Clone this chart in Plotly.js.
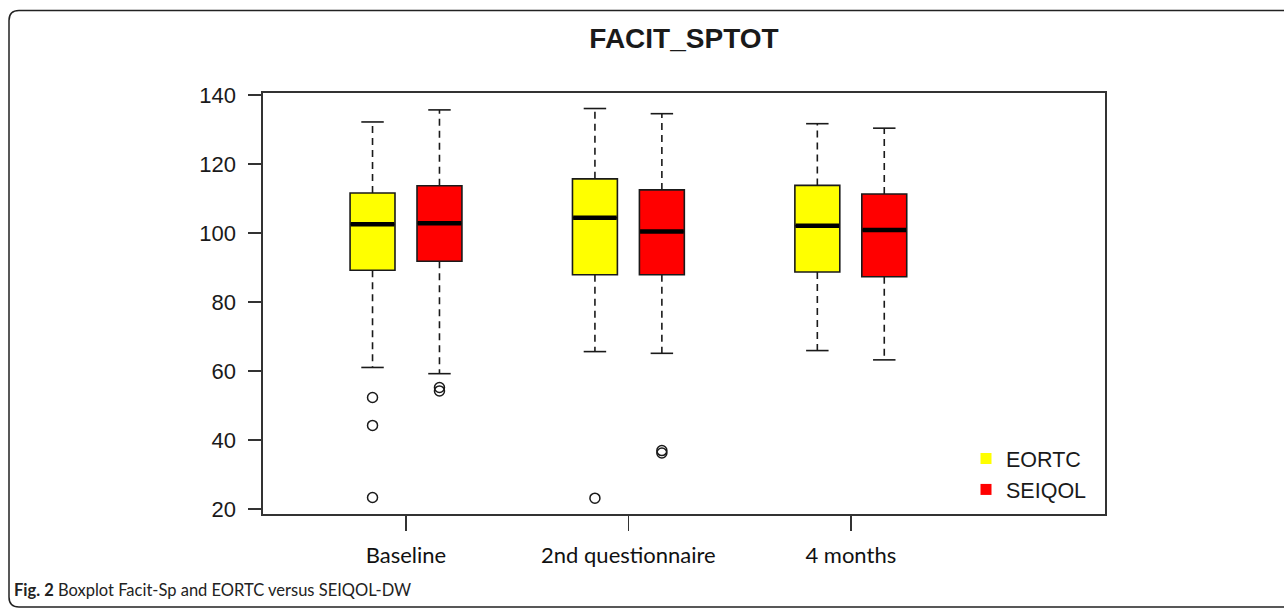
<!DOCTYPE html>
<html>
<head>
<meta charset="utf-8">
<script src="https://cdn.plot.ly/plotly-3.0.1.min.js"></script>
<style>
  html, body { margin: 0; padding: 0; background: #fff; }
  #chart { width: 1284px; height: 609px; }
</style>
</head>
<body>
<div id="chart"></div>
<script>
// ---- data ----
const categories = ['Baseline', '2nd questionnaire', '4 months'];
const seriesNames = ['EORTC', 'SEIQOL'];

const eortcLower  = [61.0, 65.6, 65.9];
const eortcQ1     = [89.2, 87.9, 88.7];
const eortcMedian = [102.5, 104.4, 102.1];
const eortcQ3     = [111.6, 115.7, 113.8];
const eortcUpper  = [132.2, 136.1, 131.7];
const eortcOutliers = [[52.3, 44.2, 23.3], [23.1], []];

const seiqolLower  = [59.2, 65.1, 63.2];
const seiqolQ1     = [91.8, 87.9, 87.3];
const seiqolMedian = [102.8, 100.4, 100.9];
const seiqolQ3     = [113.7, 112.5, 111.3];
const seiqolUpper  = [135.7, 134.6, 130.4];
const seiqolOutliers = [[55.2, 54.2], [36.9, 36.2], []];

const yTicks = [20, 40, 60, 80, 100, 120, 140];

// ---- styling / layout constants ----
const W = 1284, H = 609;
const M = { l: 263, r: 179, t: 93, b: 95 };
const plotW = W - M.l - M.r, plotH = H - M.t - M.b;
const OFFSET = 0.1505;    // half distance between paired boxes (category units)
const BOXW = 0.202;       // box width (category units)
const fills = ['#ffff00', '#ff0000'];
const edge = '#1a1a1a';

const series = [
  { name: seriesNames[0], lower: eortcLower, q1: eortcQ1, med: eortcMedian, q3: eortcQ3, upper: eortcUpper, out: eortcOutliers, off: -OFFSET, fill: fills[0] },
  { name: seriesNames[1], lower: seiqolLower, q1: seiqolQ1, med: seiqolMedian, q3: seiqolQ3, upper: seiqolUpper, out: seiqolOutliers, off: OFFSET, fill: fills[1] }
];

const traces = [];
series.forEach(s => {
  const pos = categories.map((c, i) => i + s.off);
  // dashed whiskers
  const wx = [], wy = [];
  pos.forEach((p, i) => {
    wx.push(p, p, null, p, p, null);
    wy.push(s.q3[i], s.upper[i], null, s.q1[i], s.lower[i], null);
  });
  traces.push({ type: 'scatter', mode: 'lines', x: wx, y: wy, showlegend: false, hoverinfo: 'skip',
    line: { color: edge, width: 1.6, dash: '7px,5px' } });
  // staples
  const sx = [], sy = [];
  pos.forEach((p, i) => {
    sx.push(p - BOXW / 4, p + BOXW / 4, null, p - BOXW / 4, p + BOXW / 4, null);
    sy.push(s.upper[i], s.upper[i], null, s.lower[i], s.lower[i], null);
  });
  traces.push({ type: 'scatter', mode: 'lines', x: sx, y: sy, showlegend: false, hoverinfo: 'skip',
    line: { color: edge, width: 1.6 } });
  // boxes
  traces.push({ type: 'box', x: pos, q1: s.q1, median: s.med, q3: s.q3,
    lowerfence: s.q1, upperfence: s.q3, width: BOXW, whiskerwidth: 0,
    fillcolor: s.fill, line: { color: edge, width: 1.6 }, showlegend: false, hoverinfo: 'skip' });
  // thick medians
  const mx = [], my = [];
  pos.forEach((p, i) => {
    mx.push(p - BOXW / 2 + 0.003, p + BOXW / 2 - 0.003, null);
    my.push(s.med[i], s.med[i], null);
  });
  traces.push({ type: 'scatter', mode: 'lines', x: mx, y: my, showlegend: false, hoverinfo: 'skip',
    line: { color: '#000', width: 4.5 } });
  // outliers
  const ox = [], oy = [];
  pos.forEach((p, i) => { s.out[i].forEach(v => { ox.push(p); oy.push(v); }); });
  traces.push({ type: 'scatter', mode: 'markers', x: ox, y: oy, showlegend: false, hoverinfo: 'skip',
    marker: { symbol: 'circle-open', size: 10, color: edge, line: { width: 1.5, color: edge } } });
});
// legend entries
series.forEach(s => {
  traces.push({ type: 'scatter', mode: 'markers', x: [null], y: [null], name: s.name,
    marker: { symbol: 'square', size: 11, color: s.fill } });
});

// pixel -> paper helpers for decorative frame
const px = x => (x - M.l) / plotW;
const py = y => (H - M.b - y) / plotH;
const L = 9, T = 10.5, R = 1320, B = 607, r = 10;
const framePath = [
  `M ${px(L)},${py(T + r)}`,
  `Q ${px(L)},${py(T)} ${px(L + r)},${py(T)}`,
  `L ${px(R - r)},${py(T)}`,
  `Q ${px(R)},${py(T)} ${px(R)},${py(T + r)}`,
  `L ${px(R)},${py(B - r)}`,
  `Q ${px(R)},${py(B)} ${px(R - r)},${py(B)}`,
  `L ${px(L + r)},${py(B)}`,
  `Q ${px(L)},${py(B)} ${px(L)},${py(B - r)}`,
  'Z'
].join(' ');

const rFont = 'Liberation Sans, Arial, sans-serif';
const capFont = 'Lato, Open Sans, sans-serif';
const layout = {
  width: W, height: H,
  margin: M,
  paper_bgcolor: '#fff', plot_bgcolor: '#fff',
  font: { family: rFont, color: '#1a1a1a' },
  title: { text: '<b>FACIT_SPTOT</b>', font: { family: rFont, size: 28, color: '#1a1a1a' },
    x: 0.5, xref: 'paper', xanchor: 'center', y: 1 - 38 / H, yref: 'container', yanchor: 'middle' },
  xaxis: {
    range: [-0.643, 3.143], tickvals: categories.map((c, i) => i), ticktext: categories,
    showgrid: false, zeroline: false, showline: true, mirror: true, linecolor: '#333', linewidth: 1.6,
    ticks: 'outside', ticklen: 15, tickwidth: 1.5, tickcolor: '#333',
    tickfont: { family: capFont, size: 22, color: '#111' }, ticklabelstandoff: 6
  },
  yaxis: {
    range: [18.5, 140.6], tickvals: yTicks, ticktext: yTicks.map(String),
    showgrid: false, zeroline: false, showline: true, mirror: true, linecolor: '#333', linewidth: 1.6,
    ticks: 'outside', ticklen: 13, tickwidth: 1.5, tickcolor: '#333',
    tickfont: { family: rFont, size: 22, color: '#1a1a1a' }, ticklabelstandoff: 8
  },
  showlegend: true,
  legend: { x: px(966), y: py(438), xanchor: 'left', yanchor: 'top', bgcolor: 'rgba(0,0,0,0)',
    font: { family: rFont, size: 21.5, color: '#1a1a1a' }, tracegroupgap: 0, itemclick: false },
  shapes: [{ type: 'path', xref: 'paper', yref: 'paper', path: framePath,
    line: { color: '#222', width: 1.5 }, layer: 'below' }],
  annotations: [{
    xref: 'paper', yref: 'paper', x: px(12), y: py(590), xanchor: 'left', yanchor: 'middle', showarrow: false,
    text: '<b>Fig. 2</b> Boxplot Facit-Sp and EORTC versus SEIQOL-DW',
    font: { family: capFont, size: 16.5, color: '#222' }
  }]
};

Plotly.newPlot('chart', traces, layout, { staticPlot: true, displayModeBar: false });
</script>
</body>
</html>
